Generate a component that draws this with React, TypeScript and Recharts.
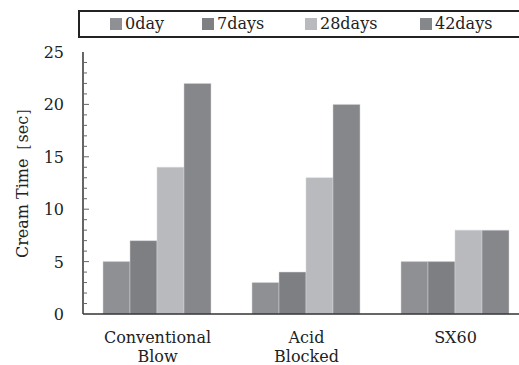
import { BarChart, Bar, XAxis, YAxis } from "recharts";

const categories = ["Conventional\nBlow", "Acid\nBlocked", "SX60"];
const day0 = [5, 3, 5];
const days7 = [7, 4, 5];
const days28 = [14, 13, 8];
const days42 = [22, 20, 8];
const yTicks = Array.from({ length: 26 }, (_, i) => i);

const SERIES = [
  { key: "d0", name: "0day", color: "#8f9094" },
  { key: "d7", name: "7days", color: "#7e7f83" },
  { key: "d28", name: "28days", color: "#b9babe" },
  { key: "d42", name: "42days", color: "#86878b" }
];

const data = categories.map((c, i) => ({
  cat: c,
  d0: day0[i],
  d7: days7[i],
  d28: days28[i],
  d42: days42[i]
}));

const FONT = "DejaVu Serif";
const FS = 16;
const AXIS_X = 83;

function YTick(props: any) {
  const { y, payload } = props;
  const v = payload.value as number;
  const major = v % 5 === 0;
  return (
    <g>
      {v > 0 && v < 25 && (
        <line x1={AXIS_X} x2={AXIS_X + (major ? 6 : 4)} y1={y} y2={y} stroke="#666" strokeWidth={1} />
      )}
      {major && (
        <text x={64} y={y + 6} textAnchor="end" fontSize={FS} fill="#222" style={{ fontFamily: FONT }}>
          {v}
        </text>
      )}
    </g>
  );
}

function XTick(props: any) {
  const { x, payload } = props;
  const lines = String(payload.value).split("\n");
  return (
    <g>
      {lines.map((l, i) => (
        <text key={i} x={x} y={343 + i * 19} textAnchor="middle" fontSize={FS} fill="#222" style={{ fontFamily: FONT }}>
          {l}
        </text>
      ))}
    </g>
  );
}

function YLabel() {
  return (
    <text
      transform="translate(28,179) rotate(-90)"
      textAnchor="middle"
      fontSize={FS}
      fill="#222"
      style={{ fontFamily: FONT }}
    >
      Cream Time［sec］
    </text>
  );
}

// legend item offsets inside the box
const LEGEND_X = [30, 122, 225, 340];

function LegendBox() {
  return (
    <div
      style={{
        position: "absolute",
        left: 78,
        top: 10,
        width: 470,
        height: 24,
        border: "2px solid #222",
        fontFamily: FONT,
        fontSize: FS,
        color: "#222"
      }}
    >
      {SERIES.map((s, i) => (
        <div
          key={s.key}
          style={{ position: "absolute", left: LEGEND_X[i], top: 2, display: "flex", alignItems: "center", whiteSpace: "nowrap" }}
        >
          <span style={{ display: "inline-block", width: 12, height: 12, background: s.color, marginRight: 3 }} />
          <span>{s.name}</span>
        </div>
      ))}
    </div>
  );
}

export default function App() {
  return (
    <div style={{ position: "absolute", left: 0, top: 0, width: 519, height: 365, overflow: "hidden", background: "#fff", fontFamily: FONT }}>
      <BarChart
        width={540}
        height={365}
        data={data}
        margin={{ top: 52, right: 10, bottom: 0, left: 0 }}
        barGap={0}
        barCategoryGap={20}
      >
        <XAxis
          dataKey="cat"
          axisLine={{ stroke: "#333", strokeWidth: 1.5 }}
          tickLine={false}
          tick={<XTick />}
          interval={0}
          height={51}
        />
        <XAxis
          xAxisId="top"
          orientation="top"
          dataKey="cat"
          axisLine={{ stroke: "#333", strokeWidth: 1.5 }}
          tick={false}
          tickLine={false}
          height={0}
        />
        <YAxis
          width={AXIS_X}
          domain={[0, 25]}
          ticks={yTicks}
          interval={0}
          axisLine={{ stroke: "#333", strokeWidth: 1.5 }}
          tickLine={false}
          tick={<YTick />}
          label={{ content: () => <YLabel /> }}
        />
        <YAxis
          yAxisId="right"
          orientation="right"
          width={0}
          axisLine={{ stroke: "#333", strokeWidth: 1.5 }}
          tick={false}
          tickLine={false}
        />
        {SERIES.map((s) => (
          <Bar
            key={s.key}
            dataKey={s.key}
            name={s.name}
            fill={s.color}
            stroke="#d4d4d6"
            strokeWidth={0.5}
            isAnimationActive={false}
          />
        ))}
      </BarChart>
      <LegendBox />
    </div>
  );
}
